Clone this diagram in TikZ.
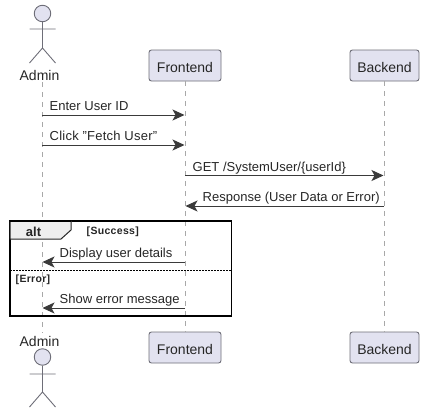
\documentclass[tikz,border=0pt]{standalone}
\usepackage{fontspec}
\setmainfont{Liberation Sans}
\usetikzlibrary{arrows.meta}
\definecolor{partfill}{HTML}{E2E2F0}
\definecolor{partline}{HTML}{6E6E78}
\definecolor{lifeline}{HTML}{A8A8A8}
\definecolor{msgline}{HTML}{3A3A3A}
\definecolor{tabfill}{HTML}{EEEEEE}
\tikzset{
  x=1pt,y=-1pt,
  partbox/.style={draw=partline,fill=partfill,line width=0.9pt,rounded corners=2.5pt,minimum width=#1,minimum height=31pt,inner sep=0pt,text height=13pt,text depth=0pt,font=\fontsize{14}{16}\selectfont,text=black!85},
  lifeln/.style={draw=lifeline,line width=1pt,dash pattern=on 5pt off 5pt},
  msg/.style={draw=msgline,line width=1pt,-{Stealth[length=12pt,width=11pt,inset=3pt]}},
  msglabel/.style={inner sep=0pt,anchor=base west,font=\fontsize{13}{15}\selectfont,text=black!85},
  actorlabel/.style={inner sep=0pt,anchor=base,font=\fontsize{14}{16}\selectfont,text=black!85},
  actorhead/.style={circle,draw=partline,fill=partfill,line width=0.9pt,minimum size=16.5pt,inner sep=0pt},
  actorlimb/.style={draw=partline,line width=0.9pt},
  framebox/.style={draw=black,line width=1.6pt},
  guard/.style={inner sep=0pt,anchor=base west,font=\fontsize{10.5}{12}\bfseries\addfontfeature{LetterSpace=3},text=black!85},
}
\begin{document}
\begin{tikzpicture}
\useasboundingbox (0,0) rectangle (425,415);
% participants
\coordinate (adminTop) at (42,82);
\coordinate (adminBot) at (42,333);
\node[partbox=72pt] (frontTop) at (185,65.5) {Frontend};
\node[partbox=69pt] (backTop) at (384.5,65.5) {Backend};
\node[partbox=72pt] (frontBot) at (185,347.5) {Frontend};
\node[partbox=69pt] (backBot) at (384.5,347.5) {Backend};
% lifelines
\draw[lifeln] (adminTop) -- (adminBot);
\draw[lifeln] (frontTop) -- (frontBot);
\draw[lifeln] (backTop) -- (backBot);
% actors
\node[actorhead] (headTop) at (42.5,13.5) {};
\coordinate (hipTop) at (42.5,48);
\coordinate (armLTop) at (29.5,29);
\coordinate (armRTop) at (55.5,29);
\coordinate (legLTop) at (29.5,63);
\coordinate (legRTop) at (55.5,63);
\draw[actorlimb] (headTop) -- (hipTop) (armLTop) -- (armRTop) (hipTop) -- (legLTop) (hipTop) -- (legRTop);
\node[actorlabel] (adminLabelTop) at (39.5,80) {Admin};
\node[actorlabel] (adminLabelBot) at (39.5,346) {Admin};
\node[actorhead] (headBot) at (42.5,357) {};
\coordinate (hipBot) at (42.5,392);
\coordinate (armLBot) at (29.5,374);
\coordinate (armRBot) at (55.5,374);
\coordinate (legLBot) at (29.5,407);
\coordinate (legRBot) at (55.5,407);
\draw[actorlimb] (headBot) -- (hipBot) (armLBot) -- (armRBot) (hipBot) -- (legLBot) (hipBot) -- (legRBot);
% frame
\coordinate (frameNW) at (10,221);
\coordinate (frameSE) at (231.5,316);
\draw[framebox] (frameNW) rectangle (frameSE);
\coordinate (tabA) at (71,221);
\coordinate (tabB) at (71,230);
\coordinate (tabC) at (61,239);
\coordinate (tabD) at (10,239);
\draw[line width=1pt,draw=black!85,fill=tabfill] (frameNW) -- (tabA) -- (tabB) -- (tabC) -- (tabD) -- cycle;
\draw[framebox] (frameNW) -- (tabA);
\node[inner sep=0pt,anchor=base,font=\fontsize{13}{15}\bfseries\selectfont,text=black!85] (altLabel) at (33.5,236) {alt};
\node[guard] (succ) at (86.5,234) {[Success]};
\node[guard] (err) at (15.5,282) {[Error]};
\coordinate (divL) at (10,270.5);
\coordinate (divR) at (231.5,270.5);
\draw[line width=1pt,draw=black,dash pattern=on 1.5pt off 1.5pt] (divL) -- (divR);
% messages
\coordinate (a1) at (42,115); \coordinate (f1) at (184.5,115);
\coordinate (a2) at (42,145); \coordinate (f2) at (184.5,145);
\coordinate (f3) at (185,175.5); \coordinate (b3) at (383.5,175.5);
\coordinate (b4) at (384,206); \coordinate (f4) at (185.5,206);
\coordinate (f5) at (185,262); \coordinate (a5) at (42.5,262);
\coordinate (f6) at (185,308); \coordinate (a6) at (42.5,308);
\draw[msg] (a1) -- (f1);
\draw[msg] (a2) -- (f2);
\draw[msg] (f3) -- (b3);
\draw[msg] (b4) -- (f4);
\draw[msg] (f5) -- (a5);
\draw[msg] (f6) -- (a6);
\node[msglabel] (m1) at (49.5,110) {Enter User ID};
\node[msglabel,font=\fontsize{13}{15}\selectfont\addfontfeature{LetterSpace=1.8}] (m2) at (49.5,140) {Click "Fetch User"};
\node[msglabel] (m3) at (192.5,171) {GET /SystemUser/\{userId\}};
\node[msglabel] (m4) at (202.5,201) {Response (User Data or Error)};
\node[msglabel] (m5) at (59.5,257) {Display user details};
\node[msglabel] (m6) at (59.5,303) {Show error message};
\end{tikzpicture}
\end{document}
